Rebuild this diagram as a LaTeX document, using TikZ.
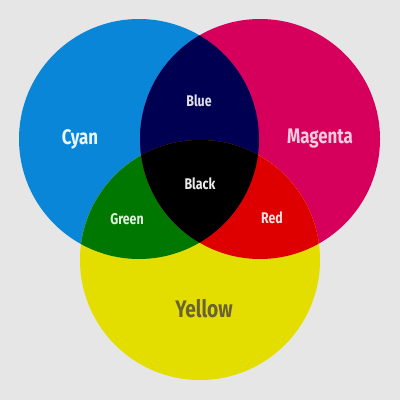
\documentclass[tikz,border=0pt]{standalone}
\usepackage{fontspec}
\setmainfont{Fira Sans}[FakeStretch=0.8]
\usetikzlibrary{positioning}
\definecolor{PaperGray}{RGB}{230, 230, 230}
\definecolor{InkCyan}{RGB}{10, 134, 216}
\definecolor{InkMagenta}{RGB}{214, 0, 92}
\definecolor{InkYellow}{RGB}{228, 222, 0}
\definecolor{MixBlue}{RGB}{0, 0, 82}
\definecolor{MixGreen}{RGB}{0, 120, 0}
\definecolor{MixRed}{RGB}{222, 0, 0}
\definecolor{YellowText}{RGB}{105, 98, 50}

\begin{document}
\begin{tikzpicture}[x=0.025cm, y=-0.025cm]
    \tikzset{
      biglabel/.style={font=\bfseries\fontsize{15}{15}\selectfont},
      smalllabel/.style={font=\bfseries\fontsize{11}{11}\selectfont}
    }
    % Background
    \fill[PaperGray] (0,0) rectangle (400,400);
    \useasboundingbox (0,0) rectangle (400,400);

    % Primary circles
    \fill[InkCyan] (139,139) circle (120);
    \fill[InkMagenta] (260,139) circle (120);
    \fill[InkYellow] (200,260) circle (120);

    % Pairwise overlaps
    \begin{scope}
      \clip (139,139) circle (120);
      \fill[MixBlue] (260,139) circle (120);
      \fill[MixGreen] (200,260) circle (120);
    \end{scope}
    \begin{scope}
      \clip (260,139) circle (120);
      \fill[MixRed] (200,260) circle (120);
    \end{scope}

    % Centre overlap
    \begin{scope}
      \clip (139,139) circle (120);
      \clip (260,139) circle (120);
      \fill[black] (200,260) circle (120);
    \end{scope}

    % Labels
    \node[biglabel, text=white!92!InkCyan] (cyan) at (80,139) {Cyan};
    \node[biglabel, text=white!80!InkMagenta] (magenta) at (320,139) {Magenta};
    \node[biglabel, font=\bfseries\fontsize{17}{17}\selectfont, text=YellowText] (yellow) at (204,309) {Yellow};
    \node[smalllabel, text=white!88!MixBlue] (blue) at (199,101) {Blue};
    \node[smalllabel, text=white!92!black] (black) at (200,184) {Black};
    \node[smalllabel, text=white!88!MixGreen] (green) at (127,219) {Green};
    \node[smalllabel, text=white!88!MixRed] (red) at (272,218) {Red};
\end{tikzpicture}
\end{document}
